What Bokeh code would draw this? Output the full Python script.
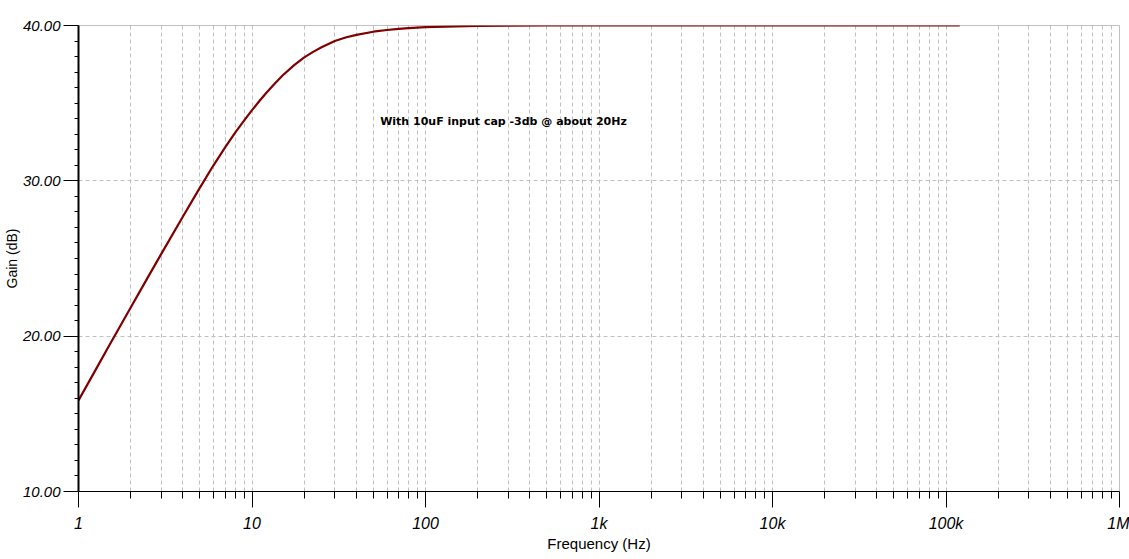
from bokeh.plotting import figure
from bokeh.models import FixedTicker, PrintfTickFormatter, Label, ColumnDataSource, Range1d
from bokeh.embed import file_html
from bokeh.resources import INLINE

# ---- data ----
freq_hz = [1, 1.25, 1.5, 2, 2.5, 3, 4, 5, 6, 7, 8, 9, 10, 11, 12, 13.5, 15, 17.5,
           20, 22.5, 25, 30, 35, 40, 50, 60, 70, 80, 100, 150, 200, 300, 500,
           1000, 10000, 120000]
gain_db = [15.86, 17.8, 19.38, 21.85, 23.75, 25.3, 27.7, 29.55, 31.0, 32.15, 33.1,
           33.88, 34.55, 35.12, 35.62, 36.25, 36.78, 37.45, 37.95, 38.3, 38.58,
           39.0, 39.24, 39.4, 39.6, 39.71, 39.78, 39.83, 39.89, 39.95, 39.97,
           39.99, 40.0, 40.0, 40.0, 40.0]

x_major = [1, 10, 100, 1000, 10000, 100000, 1000000]
x_labels = ["1", "10", "100", "1k", "10k", "100k", "1M"]
y_major = [10, 20, 30, 40]
annotation = "With 10uF input cap -3db @ about 20Hz"

FONT = "Liberation Sans"
GRID = "#c0c0c0"

p = figure(width=1129, height=559, x_axis_type="log",
           x_range=Range1d(1, 1e6), y_range=Range1d(10, 40),
           output_backend="svg", toolbar_location=None,
           min_border_left=77, min_border_right=10,
           min_border_top=25, min_border_bottom=68)
p.background_fill_color = "white"
p.border_fill_color = "white"
p.outline_line_color = GRID
p.outline_line_width = 1

src = ColumnDataSource(dict(f=freq_hz, g=gain_db))
p.line("f", "g", source=src, line_color="#800000", line_width=2.2,
       line_join="round")

# x axis
x_minor = [d * m for d in x_major[:-1] for m in range(2, 10)]
xt = FixedTicker(ticks=x_major, minor_ticks=x_minor)
p.xaxis.ticker = xt
p.xaxis.major_label_overrides = {v: s for v, s in zip(x_major, x_labels)}
p.xaxis.major_tick_out = 16
p.xaxis.major_tick_in = 0
p.xaxis.minor_tick_out = 7
p.xaxis.minor_tick_in = 0
p.xaxis.axis_line_color = "black"
p.xaxis.major_tick_line_color = "black"
p.xaxis.minor_tick_line_color = "black"
p.xaxis.major_label_text_font = FONT
p.xaxis.major_label_text_font_style = "italic"
p.xaxis.major_label_text_font_size = "16px"
p.xaxis.major_label_text_color = "black"
p.xaxis.major_label_standoff = 7
p.xaxis.axis_label = "Frequency (Hz)"
p.xaxis.axis_label_text_font = FONT
p.xaxis.axis_label_text_font_style = "normal"
p.xaxis.axis_label_text_font_size = "15px"
p.xaxis.axis_label_text_color = "black"
p.xaxis.axis_label_standoff = 0

# y axis
y_minor = [v for v in range(10, 41) if v not in y_major]
yt = FixedTicker(ticks=y_major, minor_ticks=y_minor)
p.yaxis.ticker = yt
p.yaxis.formatter = PrintfTickFormatter(format="%.2f")
p.yaxis.major_tick_out = 15
p.yaxis.major_tick_in = 0
p.yaxis.minor_tick_out = 4
p.yaxis.minor_tick_in = 0
p.yaxis.axis_line_color = "black"
p.yaxis.axis_line_width = 2
p.yaxis.major_tick_line_color = "black"
p.yaxis.minor_tick_line_color = "black"
p.yaxis.major_label_text_font = FONT
p.yaxis.major_label_text_font_style = "italic"
p.yaxis.major_label_text_font_size = "15px"
p.yaxis.major_label_text_color = "black"
p.yaxis.major_label_standoff = 3
p.yaxis.axis_label = "Gain (dB)"
p.yaxis.axis_label_text_font = FONT
p.yaxis.axis_label_text_font_style = "normal"
p.yaxis.axis_label_text_font_size = "14px"
p.yaxis.axis_label_text_color = "black"
p.yaxis.axis_label_standoff = 0

# grids
p.xgrid.ticker = xt
p.xgrid.grid_line_color = GRID
p.xgrid.grid_line_dash = "4 3"
p.xgrid.minor_grid_line_color = GRID
p.xgrid.minor_grid_line_dash = "4 3"
p.ygrid.ticker = FixedTicker(ticks=y_major)
p.ygrid.grid_line_color = GRID
p.ygrid.grid_line_dash = "4 3"

# annotation
p.add_layout(Label(x=54.8, y=33.8, text=annotation,
                   text_align="left", text_baseline="middle",
                   text_font="DejaVu Sans", text_font_style="bold",
                   text_font_size="11px", text_color="black"))

open("out.html", "w").write(file_html(p, INLINE))
